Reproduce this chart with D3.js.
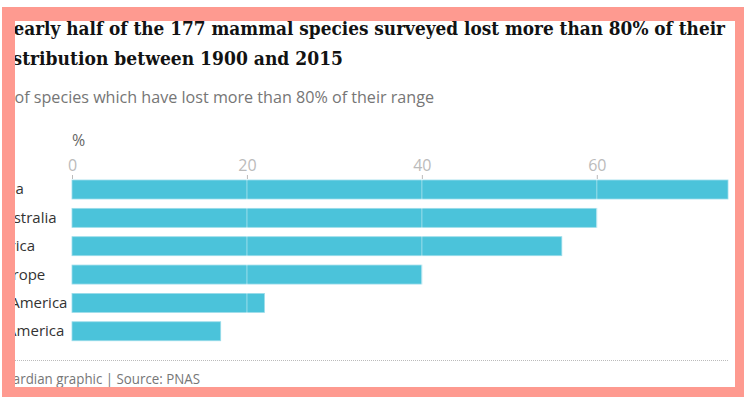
<!DOCTYPE html>
<html>
<head>
<meta charset="utf-8">
<script src="https://cdn.jsdelivr.net/npm/d3@7"></script>
<style>
  html, body { margin: 0; padding: 0; background: #fff; }
  svg { display: block; }
</style>
</head>
<body>
<div class="canvas"></div>
<script>
const regions = ['Asia', 'Australia', 'Africa', 'Europe', 'N America', 'S America'];
const lostPct = [75, 60, 56, 40, 22, 17];
const ticks = [0, 20, 40, 60];

const titleLines = [
  'Nearly half of the 177 mammal species surveyed lost more than 80% of their',
  'distribution between 1900 and 2015'
];
const subtitle = '% of species which have lost more than 80% of their range';
const source = 'Guardian graphic | Source: PNAS';

const width = 744;
const height = 397;
const left = -5;
const sans = '"Open Sans", "Noto Sans", sans-serif';

const svg = d3.select('.canvas')
  .append('svg')
  .attr('width', width)
  .attr('height', height);

svg.append('rect').attr('width', width).attr('height', height).attr('fill', '#fff');

// chart is cropped by the frame
svg.append('clipPath')
  .attr('id', 'inner')
  .append('rect')
  .attr('x', 15).attr('y', 21)
  .attr('width', 720).attr('height', 366);

const chart = svg.append('g').attr('clip-path', 'url(#inner)');

// headings
const titleX = [-2, -6];
const titleWidths = [727, 349];
chart.append('g')
  .selectAll('text')
  .data(titleLines)
  .join('text')
  .attr('x', (d, i) => titleX[i])
  .attr('y', (d, i) => 35 + i * 30)
  .attr('font-family', '"DejaVu Serif", serif')
  .attr('font-weight', 'bold')
  .attr('font-size', 18)
  .attr('fill', '#121212')
  .attr('textLength', (d, i) => titleWidths[i])
  .attr('lengthAdjust', 'spacingAndGlyphs')
  .text(d => d);

chart.append('text')
  .attr('x', -3)
  .attr('y', 103)
  .attr('font-family', sans)
  .attr('font-size', 16)
  .attr('fill', '#767676')
  .attr('textLength', 437)
  .attr('lengthAdjust', 'spacingAndGlyphs')
  .text(subtitle);

const x = d3.scaleLinear().domain([0, 75]).range([72, 728]);
const y = d3.scaleBand().domain(regions).range([180, 340.75]).paddingInner(0.33).paddingOuter(0);

chart.append('text')
  .attr('x', x(0))
  .attr('y', 146)
  .attr('font-family', sans)
  .attr('font-size', 16)
  .attr('fill', '#666')
  .text('%');

// axis on top
const axis = chart.append('g')
  .attr('transform', `translate(0, 179)`)
  .call(d3.axisTop(x).tickValues(ticks).tickSize(4).tickFormat(d3.format('d')));

axis.select('.domain').remove();
axis.selectAll('.tick line').attr('stroke', '#bbb');
axis.selectAll('.tick text')
  .attr('font-family', sans)
  .attr('font-size', 16)
  .attr('fill', '#bbb')
  .attr('y', -8);

// bars
chart.append('g')
  .selectAll('rect')
  .data(lostPct)
  .join('rect')
  .attr('x', x(0))
  .attr('y', (d, i) => y(regions[i]))
  .attr('width', d => x(d) - x(0))
  .attr('height', y.bandwidth())
  .attr('fill', '#4bc3da')
  .attr('stroke', '#9bdcea')
  .attr('stroke-width', 0.8);

// gridlines over bars
chart.append('g')
  .selectAll('line')
  .data(ticks.slice(1))
  .join('line')
  .attr('x1', d => x(d))
  .attr('x2', d => x(d))
  .attr('y1', 179)
  .attr('y2', 341)
  .attr('stroke', '#fff')
  .attr('stroke-opacity', 0.45)
  .attr('stroke-width', 1);

chart.append('g')
  .selectAll('text')
  .data(regions)
  .join('text')
  .attr('x', left)
  .attr('y', d => y(d) + y.bandwidth() / 2 + 5)
  .attr('font-family', sans)
  .attr('font-size', 15)
  .attr('fill', '#333')
  .text(d => d);

chart.append('line')
  .attr('x1', left)
  .attr('x2', 728)
  .attr('y1', 360.5)
  .attr('y2', 360.5)
  .attr('stroke', '#bbb')
  .attr('stroke-dasharray', '1,1');

chart.append('text')
  .attr('x', left)
  .attr('y', 384)
  .attr('font-family', sans)
  .attr('font-size', 14)
  .attr('fill', '#767676')
  .attr('textLength', 205)
  .attr('lengthAdjust', 'spacingAndGlyphs')
  .text(source);

// frame
const frameColor = '#fe9a90';
const frame = [
  { x: 2, y: 7, w: width - 2, h: 14 },
  { x: 2, y: 7, w: 13, h: height - 7 },
  { x: 735, y: 7, w: 9, h: height - 7 },
  { x: 2, y: 387, w: width - 2, h: 10 }
];
svg.append('g')
  .selectAll('rect')
  .data(frame)
  .join('rect')
  .attr('x', d => d.x)
  .attr('y', d => d.y)
  .attr('width', d => d.w)
  .attr('height', d => d.h)
  .attr('fill', frameColor);
</script>
</body>
</html>
